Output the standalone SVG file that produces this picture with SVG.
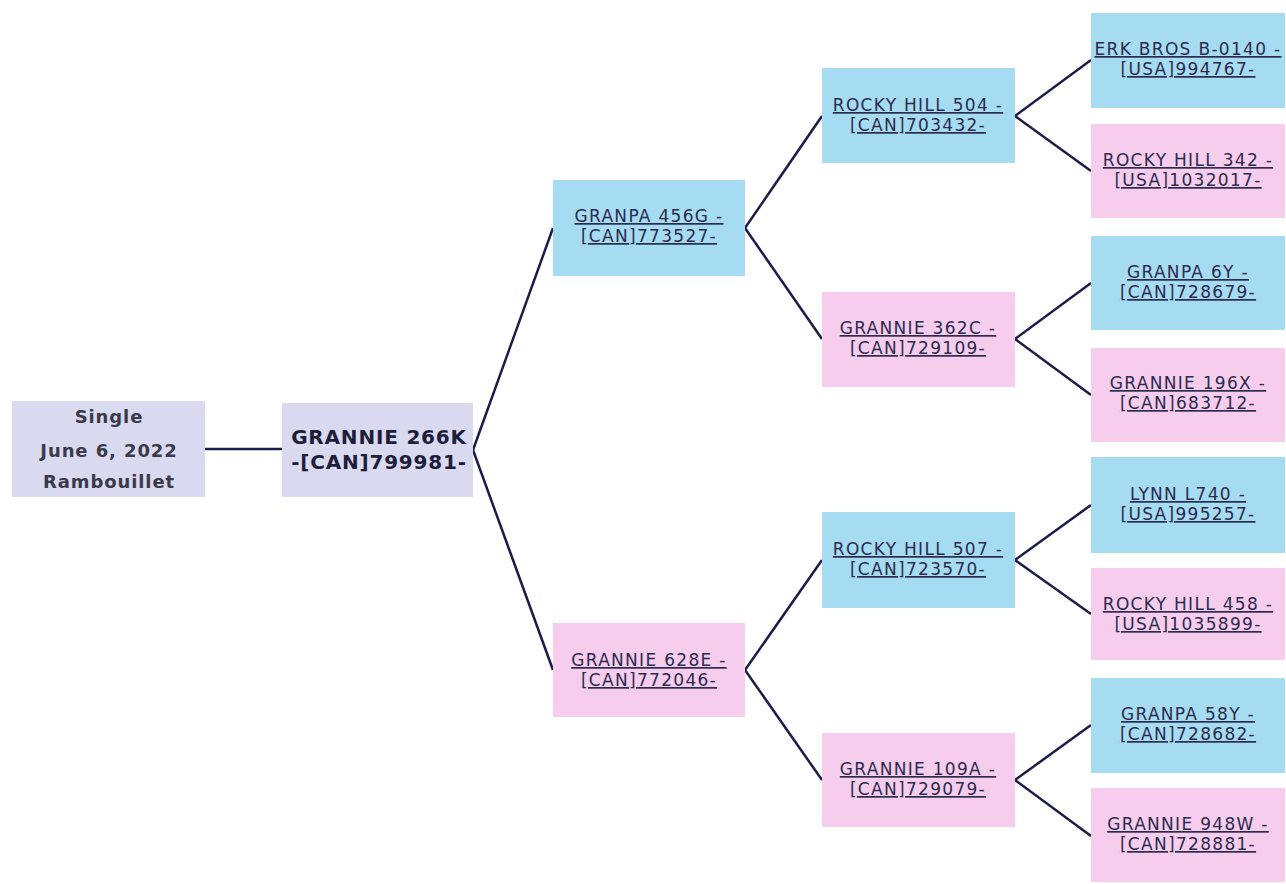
<svg xmlns="http://www.w3.org/2000/svg" width="1286" height="884" viewBox="0 0 1286 884">
<style>
.bg{fill:#ffffff}
.root{fill:#d9d9f0}
.m{fill:#a6dcf2}
.f{fill:#f7cdee}
.t{font-family:"DejaVu Sans",sans-serif;font-size:17px;letter-spacing:1.3px;fill:#2b2b4d;text-anchor:middle;text-decoration:underline}
.b{font-family:"DejaVu Sans",sans-serif;font-size:18px;letter-spacing:0.9px;font-weight:bold;fill:#3a3a4a;text-anchor:middle}
.b2{font-family:"DejaVu Sans",sans-serif;font-size:20px;letter-spacing:0.8px;font-weight:bold;fill:#1e1e3a;text-anchor:middle}
.c{stroke:#1c1c4a;stroke-width:2.5;fill:none}
</style>
<rect class="bg" x="0" y="0" width="1286" height="884"/>
<g id="connectors">
<line class="c" x1="205" y1="449" x2="282" y2="449"/>
<line class="c" x1="473" y1="450" x2="553" y2="228"/>
<line class="c" x1="473" y1="450" x2="553" y2="670"/>
<line class="c" x1="745" y1="228" x2="822" y2="116"/>
<line class="c" x1="745" y1="228" x2="822" y2="339"/>
<line class="c" x1="745" y1="670" x2="822" y2="560"/>
<line class="c" x1="745" y1="670" x2="822" y2="780"/>
<line class="c" x1="1015" y1="116" x2="1091" y2="60"/>
<line class="c" x1="1015" y1="116" x2="1091" y2="171"/>
<line class="c" x1="1015" y1="339" x2="1091" y2="283"/>
<line class="c" x1="1015" y1="339" x2="1091" y2="395"/>
<line class="c" x1="1015" y1="560" x2="1091" y2="505"/>
<line class="c" x1="1015" y1="560" x2="1091" y2="614"/>
<line class="c" x1="1015" y1="780" x2="1091" y2="725"/>
<line class="c" x1="1015" y1="780" x2="1091" y2="836"/>
</g>
<g id="n-birth">
<rect class="root" x="12" y="401" width="193" height="96"/>
<text class="b" x="109" y="423">Single</text>
<text class="b" x="109" y="457">June 6, 2022</text>
<text class="b" x="109" y="488">Rambouillet</text>
</g>
<g id="n-grannie266k">
<rect class="root" x="282" y="403" width="191" height="94"/>
<text class="b2" x="379" y="444">GRANNIE 266K</text>
<text class="b2" x="379" y="469">-[CAN]799981-</text>
</g>
<g id="n-granpa456g">
<rect class="m" x="553" y="180" width="192" height="96"/>
<text class="t" x="649" y="222">GRANPA 456G -</text>
<text class="t" x="649" y="242">[CAN]773527-</text>
</g>
<g id="n-grannie628e">
<rect class="f" x="553" y="623" width="192" height="94"/>
<text class="t" x="649" y="666">GRANNIE 628E -</text>
<text class="t" x="649" y="686">[CAN]772046-</text>
</g>
<g id="n-rockyhill504">
<rect class="m" x="822" y="68" width="193" height="95"/>
<text class="t" x="918" y="111">ROCKY HILL 504 -</text>
<text class="t" x="918" y="131">[CAN]703432-</text>
</g>
<g id="n-grannie362c">
<rect class="f" x="822" y="292" width="193" height="95"/>
<text class="t" x="918" y="334">GRANNIE 362C -</text>
<text class="t" x="918" y="354">[CAN]729109-</text>
</g>
<g id="n-rockyhill507">
<rect class="m" x="822" y="512" width="193" height="96"/>
<text class="t" x="918" y="555">ROCKY HILL 507 -</text>
<text class="t" x="918" y="575">[CAN]723570-</text>
</g>
<g id="n-grannie109a">
<rect class="f" x="822" y="733" width="193" height="94"/>
<text class="t" x="918" y="775">GRANNIE 109A -</text>
<text class="t" x="918" y="795">[CAN]729079-</text>
</g>
<g id="n-erkbros">
<rect class="m" x="1091" y="13" width="194" height="95"/>
<text class="t" x="1188" y="55">ERK BROS B-0140 -</text>
<text class="t" x="1188" y="75">[USA]994767-</text>
</g>
<g id="n-rockyhill342">
<rect class="f" x="1091" y="124" width="194" height="94"/>
<text class="t" x="1188" y="166">ROCKY HILL 342 -</text>
<text class="t" x="1188" y="186">[USA]1032017-</text>
</g>
<g id="n-granpa6y">
<rect class="m" x="1091" y="236" width="194" height="94"/>
<text class="t" x="1188" y="278">GRANPA 6Y -</text>
<text class="t" x="1188" y="298">[CAN]728679-</text>
</g>
<g id="n-grannie196x">
<rect class="f" x="1091" y="348" width="194" height="94"/>
<text class="t" x="1188" y="389">GRANNIE 196X -</text>
<text class="t" x="1188" y="409">[CAN]683712-</text>
</g>
<g id="n-lynnl740">
<rect class="m" x="1091" y="457" width="194" height="96"/>
<text class="t" x="1188" y="500">LYNN L740 -</text>
<text class="t" x="1188" y="520">[USA]995257-</text>
</g>
<g id="n-rockyhill458">
<rect class="f" x="1091" y="568" width="194" height="92"/>
<text class="t" x="1188" y="610">ROCKY HILL 458 -</text>
<text class="t" x="1188" y="630">[USA]1035899-</text>
</g>
<g id="n-granpa58y">
<rect class="m" x="1091" y="678" width="194" height="95"/>
<text class="t" x="1188" y="720">GRANPA 58Y -</text>
<text class="t" x="1188" y="740">[CAN]728682-</text>
</g>
<g id="n-grannie948w">
<rect class="f" x="1091" y="788" width="194" height="94"/>
<text class="t" x="1188" y="830">GRANNIE 948W -</text>
<text class="t" x="1188" y="850">[CAN]728881-</text>
</g>
</svg>
